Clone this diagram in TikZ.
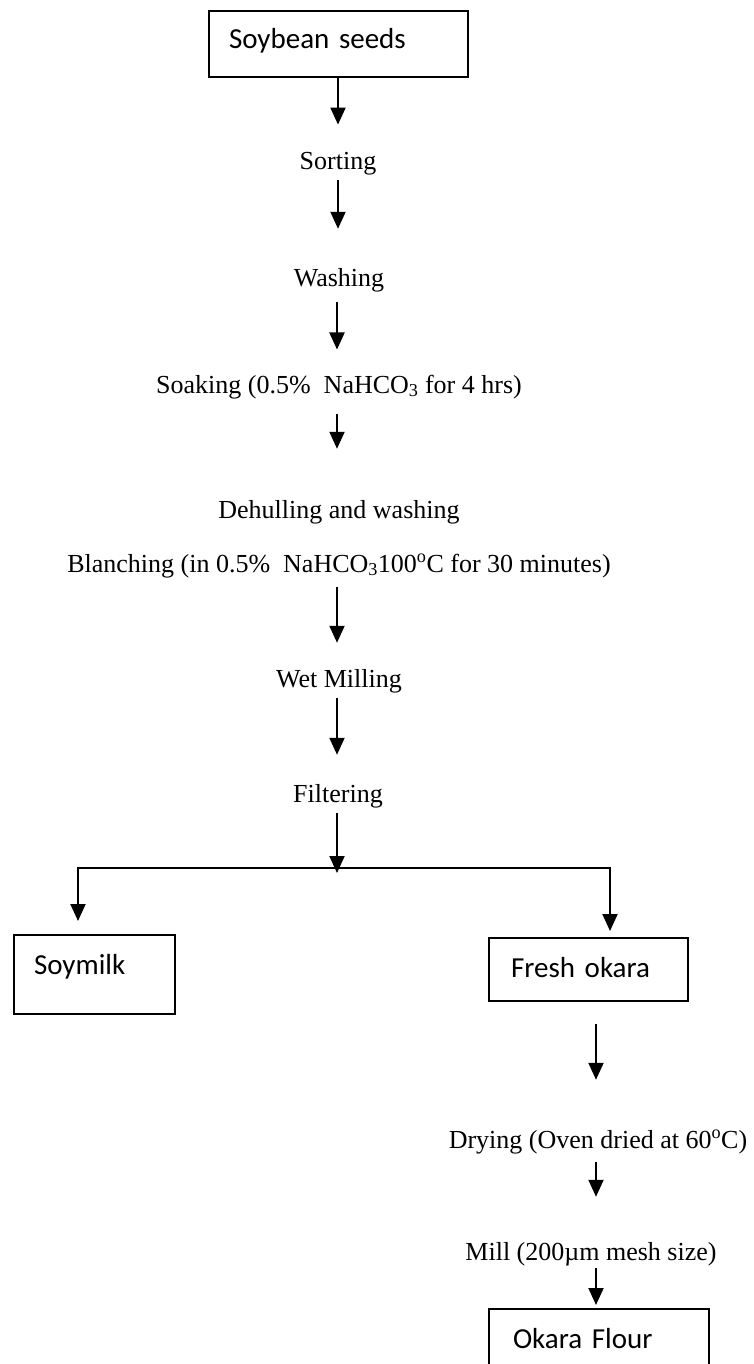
\documentclass[tikz,border=0pt]{standalone}
\usepackage{fontspec}
\setmainfont{Liberation Serif}
\newfontfamily\boxfont{Carlito}
\usetikzlibrary{arrows.meta, positioning}
\tikzset{
	x=1pt, y=-1pt,
	>={Triangle[width=15pt,length=17pt]},
	flow/.style={->, line width=2pt},
	stage/.style={inner sep=0pt, anchor=base, font={\fontsize{26pt}{30pt}\selectfont}},
	procbox/.style={draw, line width=2pt, anchor=north west, inner ysep=0pt, align=left,
		font={\boxfont\fontsize{29pt}{34pt}\selectfont}}}

\begin{document}
\begin{tikzpicture}
		\clip (0,0) rectangle (753,1364);

		\node[procbox, inner xsep=20pt, text width=219pt, text height=38pt, text depth=28pt] (seeds) at (208,10) {Soybean seeds};
		\node[stage] (sort) at (338,170) {Sorting};
		\node[stage] (wash) at (339,286) {Washing};
		\node[stage] (soak) at (339,393) {Soaking (0.5\%\ \ NaHCO\textsubscript{3} for 4 hrs)};
		\node[stage] (dehull) at (339,518) {Dehulling and washing};
		\node[stage] (blanch) at (339,572) {Blanching (in 0.5\%\ \ NaHCO\textsubscript{3}100\textsuperscript{o}C for 30 minutes)};
		\node[stage] (wetmill) at (339,687) {Wet Milling};
		\node[stage] (filter) at (338,802) {Filtering};
		\coordinate (split) at (337,868);
		\coordinate (lsplit) at (78,868);
		\coordinate (rsplit) at (610,868);
		\node[procbox, inner xsep=20pt, text width=121pt, text height=39pt, text depth=40pt] (soy) at (13,934) {Soymilk};
		\node[procbox, inner xsep=22pt, text width=155pt, text height=39pt, text depth=24pt] (fresh) at (488,937) {Fresh okara};
		\node[stage] (drying) at (598,1148) {Drying (Oven dried at 60\textsuperscript{o}C)};
		\node[stage] (mill) at (591,1260) {Mill (200µm mesh size)};
		\node[procbox, inner xsep=24pt, text width=172pt, text height=39pt, text depth=30pt] (flour) at (488,1308) {Okara Flour};

		\draw[flow, shorten >=28pt] (seeds.south -| sort) -- (sort.north);
		\draw[flow, shorten <=4pt, shorten >=39pt] (sort.south) -- (sort.south |- wash.north);
		\draw[flow, shorten <=10pt, shorten >=25pt] (wash.south -| split) -- (soak.north -| split);
		\draw[flow, shorten <=15pt, shorten >=51pt] (soak.south -| split) -- (dehull.north -| split);
		\draw[flow, shorten <=9pt, shorten >=26pt] (blanch.south -| split) -- (wetmill.north -| split);
		\draw[flow, shorten <=5pt, shorten >=29pt] (wetmill.south -| split) -- (filter.north -| split);
		\draw[flow, shorten <=5pt, shorten >=-5pt] (filter.south -| split) -- (split);
		\draw[flow, shorten >=13pt] (split) -- (lsplit) -- (lsplit |- soy.north);
		\draw[flow, shorten >=6pt] (split) -- (rsplit) -- (rsplit |- fresh.north);
		\draw[flow, shorten <=22pt, shorten >=50pt] (fresh.south -| 596,0) -- (drying.north -| 596,0);
		\draw[flow, shorten <=8pt, shorten >=45pt] (drying.south -| 596,0) -- (mill.north -| 596,0);
		\draw[flow, shorten <=2pt, shorten >=3pt] (mill.south -| 596,0) -- (flour.north -| 596,0);
\end{tikzpicture}
\end{document}
